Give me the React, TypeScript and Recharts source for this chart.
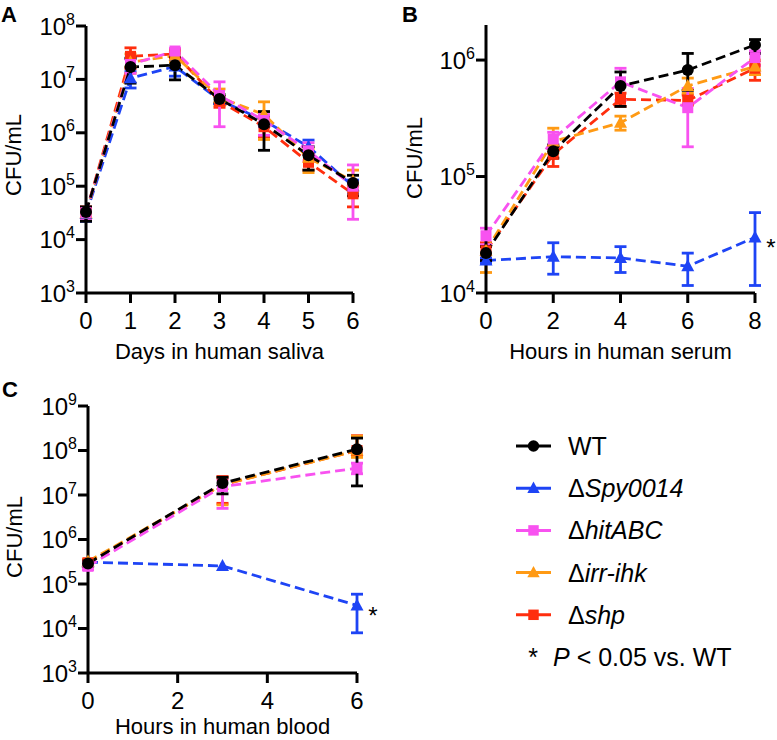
import { LineChart, Line, XAxis, YAxis, ErrorBar, Label, LabelList, Legend } from 'recharts';

const FONT = '"Liberation Sans", Arial, Helvetica, sans-serif';

const BLACK = '#000000';
const BLUE = '#1E44F5';
const MAGENTA = '#F852F0';
const ORANGE = '#FF9A14';
const RED = '#FF2E0E';

// A: days in human saliva
const salivaDays = [0, 1, 2, 3, 4, 5, 6];
const salivaWT = [3.3e4, 1.7e7, 1.85e7, 4.3e6, 1.45e6, 3.8e5, 1.15e5];
const salivaWTLow = [2.2e4, 8.5e6, 9.8e6, 3.6e6, 4.7e5, 2.0e5, 6.6e4];
const salivaWTHigh = [4.1e4, 2.5e7, 2.6e7, 5.2e6, 2.5e6, 5.5e5, 1.6e5];
const salivaSpy = [3.0e4, 1.05e7, 1.75e7, 4.1e6, 1.7e6, 5.5e5, 1.0e5];
const salivaSpyLow = [2.2e4, 6.9e6, 1.15e7, 3.5e6, 1.3e6, 4.0e5, 7.5e4];
const salivaSpyHigh = [3.8e4, 1.4e7, 2.3e7, 4.8e6, 2.1e6, 7.3e5, 1.3e5];
const salivaHit = [3.2e4, 1.9e7, 3.4e7, 5.0e6, 1.7e6, 4.6e5, 1.0e5];
const salivaHitLow = [2.4e4, 1.3e7, 3.1e7, 1.3e6, 9.0e5, 3.0e5, 2.4e4];
const salivaHitHigh = [4.0e4, 2.4e7, 3.8e7, 9.0e6, 2.2e6, 6.5e5, 2.5e5];
const salivaIrr = [3.1e4, 2.1e7, 2.8e7, 4.6e6, 2.2e6, 3.4e5, 1.25e5];
const salivaIrrLow = [2.3e4, 1.3e7, 2.1e7, 3.3e6, 7.5e5, 1.8e5, 8.0e4];
const salivaIrrHigh = [3.9e4, 3.0e7, 3.3e7, 6.6e6, 3.8e6, 5.0e5, 2.0e5];
const salivaShp = [3.2e4, 2.7e7, 3.0e7, 3.9e6, 1.3e6, 2.8e5, 7.2e4];
const salivaShpLow = [2.3e4, 1.6e7, 2.5e7, 3.0e6, 8.5e5, 2.0e5, 4.1e4];
const salivaShpHigh = [4.1e4, 3.9e7, 3.5e7, 4.8e6, 1.9e6, 4.0e5, 1.0e5];

// B: hours in human serum
const serumHours = [0, 2, 4, 6, 8];
const serumWT = [2.2e4, 1.65e5, 6.0e5, 8.2e5, 1.35e6];
const serumWTLow = [1.9e4, 1.44e5, 4.0e5, 5.5e5, 1.14e6];
const serumWTHigh = [2.5e4, 1.87e5, 7.9e5, 1.14e6, 1.5e6];
const serumSpy = [1.9e4, 2.05e4, 2.0e4, 1.7e4, 3.0e4];
const serumSpyLow = [1.8e4, 1.45e4, 1.5e4, 1.16e4, 1.16e4];
const serumSpyHigh = [2.0e4, 2.7e4, 2.5e4, 2.2e4, 4.9e4];
const serumHit = [3.1e4, 2.1e5, 6.5e5, 3.9e5, 1.05e6];
const serumHitLow = [2.6e4, 1.8e5, 4.5e5, 1.8e5, 9.0e5];
const serumHitHigh = [3.6e4, 2.4e5, 8.5e5, 5.7e5, 1.2e6];
const serumIrr = [2.3e4, 2.0e5, 2.9e5, 6.0e5, 8.8e5];
const serumIrrLow = [1.5e4, 1.6e5, 2.5e5, 5.2e5, 7.5e5];
const serumIrrHigh = [2.6e4, 2.6e5, 3.3e5, 7.0e5, 1.0e6];
const serumShp = [2.3e4, 1.55e5, 4.6e5, 4.5e5, 8.5e5];
const serumShpLow = [1.9e4, 1.22e5, 4.0e5, 4.1e5, 6.7e5];
const serumShpHigh = [2.7e4, 1.8e5, 5.2e5, 5.0e5, 9.9e5];

// C: hours in human blood
const bloodHours = [0, 3, 6];
const bloodWT = [2.9e5, 1.85e7, 1.07e8];
const bloodWTLow = [2.5e5, 1.06e7, 1.6e7];
const bloodWTHigh = [3.3e5, 2.5e7, 1.9e8];
const bloodSpy = [3.1e5, 2.55e5, 3.3e4];
const bloodSpyLow = [null, null, 8.0e3];
const bloodSpyHigh = [null, null, 5.9e4];
const bloodHit = [2.5e5, 1.55e7, 4.0e7];
const bloodHitLow = [2.1e5, 5.0e6, 3.0e7];
const bloodHitHigh = [2.9e5, 2.2e7, 5.2e7];
const bloodIrr = [3.2e5, 1.7e7, 1.0e8];
const bloodIrrLow = [2.7e5, 6.0e6, 7.0e7];
const bloodIrrHigh = [3.6e5, 2.4e7, 2.1e8];
const bloodShp = [3.0e5, 1.7e7, 1.0e8];
const bloodShpLow = [2.6e5, 6.5e6, 7.5e7];
const bloodShpHigh = [3.4e5, 2.6e7, 2.15e8];

// drawing order: black on top
const SERIES = [
  { key: 'spy', name: 'ΔSpy0014', color: BLUE, shape: 'triangle' },
  { key: 'shp', name: 'Δshp', color: RED, shape: 'square' },
  { key: 'irr', name: 'Δirr-ihk', color: ORANGE, shape: 'triangle' },
  { key: 'hit', name: 'ΔhitABC', color: MAGENTA, shape: 'square' },
  { key: 'wt', name: 'WT', color: BLACK, shape: 'circle' },
];

const LEGEND_ROWS = [
  { prefix: 'Δ', label: 'WT', italic: false, color: BLACK, shape: 'circle' },
  { prefix: 'Δ', label: 'Spy0014', italic: true, color: BLUE, shape: 'triangle' },
  { prefix: 'Δ', label: 'hitABC', italic: true, color: MAGENTA, shape: 'square' },
  { prefix: 'Δ', label: 'irr-ihk', italic: true, color: ORANGE, shape: 'triangle' },
  { prefix: 'Δ', label: 'shp', italic: true, color: RED, shape: 'square' },
];

function makeRows(xs: number[], groups: Record<string, any[][]>) {
  return xs.map((x, i) => {
    const row: any = { x };
    Object.entries(groups).forEach(([key, [mean, lo, hi]]) => {
      row[key] = mean[i];
      row[key + 'Err'] = lo[i] == null ? null : [mean[i] - lo[i], hi[i] - mean[i]];
    });
    return row;
  });
}

const salivaRows = makeRows(salivaDays, {
  wt: [salivaWT, salivaWTLow, salivaWTHigh],
  spy: [salivaSpy, salivaSpyLow, salivaSpyHigh],
  hit: [salivaHit, salivaHitLow, salivaHitHigh],
  irr: [salivaIrr, salivaIrrLow, salivaIrrHigh],
  shp: [salivaShp, salivaShpLow, salivaShpHigh],
});
const serumRows = makeRows(serumHours, {
  wt: [serumWT, serumWTLow, serumWTHigh],
  spy: [serumSpy, serumSpyLow, serumSpyHigh],
  hit: [serumHit, serumHitLow, serumHitHigh],
  irr: [serumIrr, serumIrrLow, serumIrrHigh],
  shp: [serumShp, serumShpLow, serumShpHigh],
});
const bloodRows = makeRows(bloodHours, {
  wt: [bloodWT, bloodWTLow, bloodWTHigh],
  spy: [bloodSpy, bloodSpyLow, bloodSpyHigh],
  hit: [bloodHit, bloodHitLow, bloodHitHigh],
  irr: [bloodIrr, bloodIrrLow, bloodIrrHigh],
  shp: [bloodShp, bloodShpLow, bloodShpHigh],
});

function Marker({ cx, cy, shape, color, size = 1 }: any) {
  if (shape === 'circle') return <circle cx={cx} cy={cy} r={6 * size} fill={color} />;
  if (shape === 'square') {
    const h = 5.5 * size;
    return <rect x={cx - h} y={cy - h} width={h * 2} height={h * 2} fill={color} />;
  }
  return (
    <polygon
      points={`${cx},${cy - 7 * size} ${cx + 6.5 * size},${cy + 5 * size} ${cx - 6.5 * size},${cy + 5 * size}`}
      fill={color}
    />
  );
}

const makeDot = (shape: string, color: string) => (props: any) => {
  const { cx, cy, index } = props;
  if (cx == null || cy == null) return <g key={index} />;
  return (
    <g key={index}>
      <Marker cx={cx} cy={cy} shape={shape} color={color} />
    </g>
  );
};

const PowerTick = (props: any) => {
  const { x, y, payload } = props;
  const exp = Math.round(Math.log10(payload.value));
  return (
    <text x={x} y={y + 8.5} textAnchor="end" fontFamily={FONT} fontSize={24} fill="#000">
      10<tspan dy={-10} fontSize={16}>{exp}</tspan>
    </text>
  );
};

const xTitle = (text: string, dy: number) => (props: any) => {
  const { x, y, width } = props.viewBox;
  return (
    <text x={x + width / 2} y={y + dy} textAnchor="middle" fontFamily={FONT} fontSize={22} fill="#000">
      {text}
    </text>
  );
};

const yTitle = (bx: number, cy: number) => () => (
  <text
    x={bx}
    y={cy}
    transform={`rotate(-90, ${bx}, ${cy})`}
    textAnchor="middle"
    fontFamily={FONT}
    fontSize={22}
    fill="#000"
  >
    CFU/mL
  </text>
);

const starLabel = (lastIndex: number) => (props: any) => {
  const { x, y, index } = props;
  if (index !== lastIndex) return null;
  return (
    <text x={x + 16} y={y + 19} textAnchor="middle" fontFamily={FONT} fontSize={24} fill="#000">
      *
    </text>
  );
};

const axisStroke = { stroke: '#000', strokeWidth: 3 };

function LegendBox() {
  return (
    <svg width={277} height={260} style={{ display: 'block' }}>
      {LEGEND_ROWS.map((r, i) => {
        const cy = 26 + i * 42.2;
        return (
          <g key={r.label}>
            <line x1={16} x2={51} y1={cy} y2={cy} stroke={r.color} strokeWidth={3} />
            <Marker cx={33.5} cy={cy} shape={r.shape} color={r.color} size={0.95} />
            <text x={68} y={cy + 9} fontFamily={FONT} fontSize={25} fill="#000">
              {r.italic ? <tspan>{r.prefix}</tspan> : null}
              <tspan fontStyle={r.italic ? 'italic' : 'normal'}>{r.label}</tspan>
            </text>
          </g>
        );
      })}
      <text x={33} y={237 + 9} textAnchor="middle" fontFamily={FONT} fontSize={25} fill="#000">
        *
      </text>
      <text x={53} y={237 + 9} fontFamily={FONT} fontSize={25} fill="#000">
        <tspan fontStyle="italic">P</tspan>
        <tspan> &lt; 0.05 vs. WT</tspan>
      </text>
    </svg>
  );
}

function GrowthPanel(props: any) {
  const {
    rows, width, height, margin, xDomain, xTicks, yDomain, yTicks,
    yAxisWidth, xAxisHeight, xLabel, xLabelDy, yLabelX, yLabelY, star, legend,
  } = props;
  return (
    <LineChart width={width} height={height} data={rows} margin={margin}>
      <XAxis
        type="number"
        dataKey="x"
        domain={xDomain}
        ticks={xTicks}
        interval={0}
        height={xAxisHeight}
        axisLine={axisStroke}
        tickLine={axisStroke}
        tickSize={10}
        tickMargin={9}
        tick={{ fill: '#000', fontSize: 24, fontFamily: FONT }}
      >
        <Label content={xTitle(xLabel, xLabelDy)} />
      </XAxis>
      <YAxis
        type="number"
        scale="log"
        domain={yDomain}
        ticks={yTicks}
        allowDataOverflow
        interval={0}
        width={yAxisWidth}
        axisLine={axisStroke}
        tickLine={axisStroke}
        tickSize={10}
        tickMargin={1}
        tick={<PowerTick />}
      >
        <Label content={yTitle(yLabelX, yLabelY)} />
      </YAxis>
      {SERIES.map((s) => (
        <Line
          key={s.key}
          dataKey={s.key}
          name={s.name}
          type="linear"
          stroke={s.color}
          strokeWidth={2.8}
          strokeDasharray="10 5"
          dot={makeDot(s.shape, s.color)}
          activeDot={false}
          isAnimationActive={false}
        >
          <ErrorBar
            dataKey={s.key + 'Err'}
            width={6}
            strokeWidth={2.8}
            stroke={s.color}
            direction="y"
            isAnimationActive={false}
          />
          {star && s.key === 'spy' ? <LabelList dataKey="spy" content={starLabel(rows.length - 1)} /> : null}
        </Line>
      ))}
      {legend ? (
        <Legend
          layout="horizontal"
          verticalAlign="middle"
          align="center"
          content={() => <LegendBox />}
          wrapperStyle={{ position: 'absolute', left: 500, top: 40, width: 277, height: 260 }}
        />
      ) : null}
    </LineChart>
  );
}

export default function App() {
  return (
    <div
      style={{
        position: 'absolute',
        left: 0,
        top: 0,
        width: 777,
        height: 740,
        background: '#fff',
        fontFamily: FONT,
        overflow: 'hidden',
      }}
    >
      <div style={{ position: 'absolute', left: 0, top: 0 }}>
        <GrowthPanel
          rows={salivaRows}
          width={390}
          height={370}
          margin={{ top: 26, right: 37, bottom: 0, left: 0 }}
          xDomain={[0, 6]}
          xTicks={salivaDays}
          yDomain={[1e3, 1e8]}
          yTicks={[1e3, 1e4, 1e5, 1e6, 1e7, 1e8]}
          yAxisWidth={86}
          xAxisHeight={77}
          xLabel="Days in human saliva"
          xLabelDy={66}
          yLabelX={21}
          yLabelY={155}
        />
      </div>
      <div style={{ position: 'absolute', left: 390, top: 0 }}>
        <GrowthPanel
          rows={serumRows}
          width={387}
          height={370}
          margin={{ top: 25, right: 22, bottom: 0, left: 0 }}
          xDomain={[0, 8]}
          xTicks={serumHours}
          yDomain={[1e4, 2e6]}
          yTicks={[1e4, 1e5, 1e6]}
          yAxisWidth={96}
          xAxisHeight={77}
          xLabel="Hours in human serum"
          xLabelDy={66}
          yLabelX={32}
          yLabelY={158}
          star
        />
      </div>
      <div style={{ position: 'absolute', left: 0, top: 380 }}>
        <GrowthPanel
          rows={bloodRows}
          width={777}
          height={360}
          margin={{ top: 26, right: 420, bottom: 0, left: 0 }}
          xDomain={[0, 6]}
          xTicks={[0, 2, 4, 6]}
          yDomain={[1e3, 1e9]}
          yTicks={[1e3, 1e4, 1e5, 1e6, 1e7, 1e8, 1e9]}
          yAxisWidth={88}
          xAxisHeight={67}
          xLabel="Hours in human blood"
          xLabelDy={61}
          yLabelX={22}
          yLabelY={157}
          star
          legend
        />
      </div>
      <svg
        width={777}
        height={740}
        style={{ position: 'absolute', left: 0, top: 0, pointerEvents: 'none' }}
      >
        <text x={1} y={22} fontFamily={FONT} fontWeight="bold" fontSize={22} fill="#000">A</text>
        <text x={402} y={22} fontFamily={FONT} fontWeight="bold" fontSize={22} fill="#000">B</text>
        <text x={2} y={397} fontFamily={FONT} fontWeight="bold" fontSize={22} fill="#000">C</text>
      </svg>
    </div>
  );
}
